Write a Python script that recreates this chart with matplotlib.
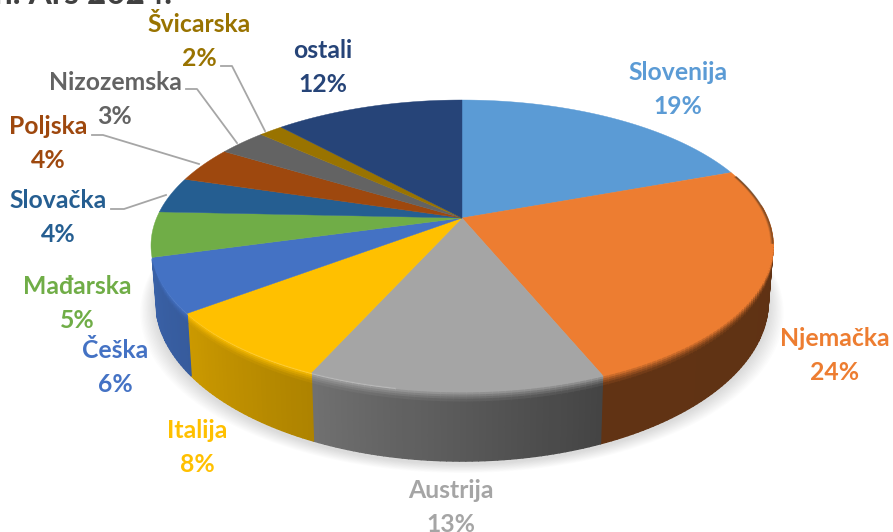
import numpy as np
import matplotlib
matplotlib.use('Agg')
import matplotlib.pyplot as plt
from matplotlib.collections import PolyCollection
from matplotlib.colors import to_rgb

countries = ['Slovenija', 'Njemačka', 'Austrija', 'Italija', 'Češka', 'Mađarska',
             'Slovačka', 'Poljska', 'Nizozemska', 'Švicarska', 'ostali']
shares = [19.4, 24.4, 12.9, 8.0, 6.0, 5.0, 4.0, 4.0, 3.0, 1.5, 11.8]
pct_labels = ['19%', '24%', '13%', '8%', '6%', '5%', '4%', '4%', '3%', '2%', '12%']
colors = ['#5B9BD5', '#ED7D31', '#A5A5A5', '#FFC000', '#4472C4', '#70AD47',
          '#255E91', '#9E480E', '#636363', '#997300', '#264478']

# label centre positions in pixels
label_x = [678, 835, 451, 197, 115, 77, 58, 48, 115, 199, 323]
label_y = [90, 356, 507, 448, 367, 304, 217, 144, 100, 42, 68]

# leader lines
leaders = {
    'Slovačka': [(111, 209), (124, 209), (166, 195)],
    'Poljska': [(92, 135), (103, 135), (199, 164)],
    'Nizozemska': [(186, 89), (197, 89), (237, 143)],
    'Švicarska': [(221, 66), (232, 66), (265, 131)],
}

# perspective of the pie
CX, CY = 462, 218
A, B, K = 305.4, 140.3, 0.189


def project(theta, r=1.0):
    u = r * np.sin(theta)
    v = r * np.cos(theta)
    d = 1 + K * v
    return CX + A * u / d, CY - B * v / d


def lower(x, y):
    return CX + 0.985 * (x - CX), y + 56 + (y - 250) * 0.1


fig = plt.figure(figsize=(8.93, 5.32), dpi=100)
ax = fig.add_axes([0, 0, 1, 1])
ax.set_xlim(0, 893)
ax.set_ylim(532, 0)
ax.axis('off')

# soft shadow
t = np.linspace(0, 2 * np.pi, 300)
sx, sy = lower(*project(t))
for grow in np.linspace(16, 1, 12):
    ax.fill(CX + (sx - CX) * (1 + grow / 320), sy + 3 + grow * 0.55,
            color='#808080', alpha=0.022, lw=0, zorder=1)

edges = np.r_[0, np.cumsum(shares)] / 100 * 2 * np.pi

# side wall: dark shade depends on the angle round the pie
shade_a = [0, 90, 158, 204, 233, 255, 275, 360]
shade_f = [0.4, 0.4, 0.41, 0.68, 0.8, 0.85, 0.9, 0.9]
bands = np.array([0, 0.03, 0.06, 0.09, 0.12, 0.16, 1.0])
for i, col in enumerate(colors):
    a0, a1 = edges[i], edges[i + 1]
    a0v, a1v = max(a0, np.radians(85)), min(a1, np.radians(254))
    if a1v <= a0v:
        continue
    base = np.array(to_rgb(col))
    th = np.linspace(a0v, a1v, int(np.degrees(a1v - a0v)) + 2)
    for p, q in zip(th[:-1], th[1:]):
        polys, cols = [], []
        f = np.interp(np.degrees((p + q) / 2), shade_a, shade_f)
        dark = base * f
        x0, y0 = project(np.array([p, q]))
        x1, y1 = lower(x0, y0)
        blends = [1.0, 0.75, 0.5, 0.3, 0.12, 0.0]
        for j, (b, s0, s1) in enumerate(zip(blends, bands[:-1], bands[1:])):
            polys.append([(x0[0] + (x1[0] - x0[0]) * s0, y0[0] + (y1[0] - y0[0]) * s0),
                          (x0[1] + (x1[1] - x0[1]) * s0, y0[1] + (y1[1] - y0[1]) * s0),
                          (x0[1] + (x1[1] - x0[1]) * s1, y0[1] + (y1[1] - y0[1]) * s1),
                          (x0[0] + (x1[0] - x0[0]) * s1, y0[0] + (y1[0] - y0[0]) * s1)])
            c = dark + (base - dark) * b
            if f > 0.6 and j == 0:
                c = base + (1 - base) * 0.22
            cols.append(np.clip(c, 0, 1))
        # edges same colour as faces and a bit wide, otherwise the strips show as stripes
        ax.add_collection(PolyCollection(polys, facecolors=cols, edgecolors=cols,
                                         linewidths=1.0, zorder=2))

# top surface
for i, col in enumerate(colors):
    th = np.linspace(edges[i], edges[i + 1], 80)
    x, y = project(th)
    ax.fill(np.r_[CX, x], np.r_[CY, y], color=col, lw=0.3, zorder=3)

# darker rim on the far right of the top face
th = np.linspace(np.radians(72), np.radians(100), 60)
for r, al in zip([1.0, 0.997, 0.994], [0.5, 0.3, 0.15]):
    x, y = project(th, r)
    ax.plot(x, y, color='#3a2a1a', alpha=al, lw=1.0, zorder=4)

for name, pts in leaders.items():
    ax.plot(*zip(*pts), color='#A6A6A6', lw=1.3, zorder=5)

for name, pct, col, x, y in zip(countries, pct_labels, colors, label_x, label_y):
    ax.text(x, y - 17, name, color=col, fontsize=17.8, fontweight='bold', family='Lato',
            ha='center', va='center', zorder=6)
    ax.text(x, y + 17, pct, color=col, fontsize=17.8, fontweight='bold', family='Lato',
            ha='center', va='center', zorder=6)

# title cut off by the top edge of the picture
ax.text(-6, 3.5, 'n. Ars 2024.', color='#404040', fontsize=24, fontweight='bold', family='Lato',
        ha='left', va='baseline', zorder=6)

fig.savefig('out.png', dpi=100)
